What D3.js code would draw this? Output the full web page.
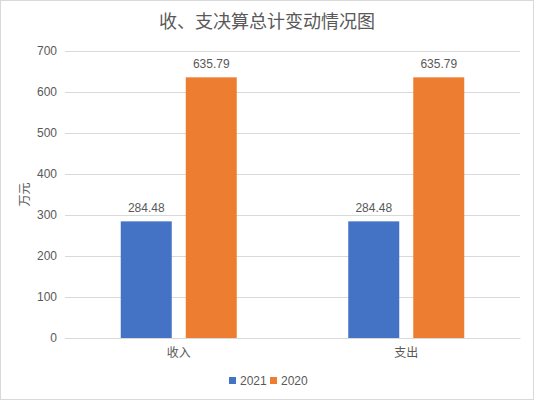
<!DOCTYPE html>
<html><head><meta charset="utf-8">
<script src="https://cdn.jsdelivr.net/npm/d3@7"></script>
<style>body{margin:0;background:#fff;} text{font-family:"Liberation Sans","Noto Sans CJK SC",sans-serif;}</style>
</head><body>
<svg id="c" width="535" height="401"></svg>
<script>
const categories = ["收入", "支出"];
const seriesNames = ["2021", "2020"];
const values2021 = [284.48, 284.48];
const values2020 = [635.79, 635.79];
const yTicks = [0, 100, 200, 300, 400, 500, 600, 700];
const colors = ["#4472C4", "#ED7D31"];

const svg = d3.select("#c");
svg.append("rect").attr("x",0.5).attr("y",0.5).attr("width",533).attr("height",399)
  .attr("fill","#fff").attr("stroke","#d9d9d9");

const plotL = 65, plotR = 520, plotT = 51, plotB = 338;
const x = d3.scaleBand().domain(categories).range([plotL, plotR]);
const y = d3.scaleLinear().domain([0, 700]).range([plotB, plotT]);
const xs = d3.scaleBand().domain(seriesNames).range([0, 116]).paddingInner(14/65);

svg.append("text").attr("x", 267).attr("y", 28).attr("text-anchor","middle")
  .attr("font-size", 18).attr("fill","#595959").text("收、支决算总计变动情况图");

const yAxis = svg.append("g").attr("transform",`translate(${plotL},0)`)
  .call(d3.axisLeft(y).tickValues(yTicks).tickSize(-(plotR-plotL)).tickPadding(8));
yAxis.select(".domain").remove();
yAxis.selectAll("line").attr("stroke","#d9d9d9");
yAxis.selectAll("text").attr("fill","#595959").attr("font-size",12);

const xAxis = svg.append("g").attr("transform",`translate(0,${plotB})`)
  .call(d3.axisBottom(x).tickSize(0).tickPadding(10));
xAxis.select(".domain").attr("stroke","#d9d9d9");
xAxis.selectAll("text").attr("fill","#595959").attr("font-size",12);

svg.append("text").attr("transform",`translate(29,${(plotT+plotB)/2}) rotate(-90)`)
  .attr("text-anchor","middle").attr("font-size",12).attr("fill","#595959").text("万元");

const series = [values2021, values2020];
series.forEach((vals, si) => {
  categories.forEach((c, i) => {
    const bx = x(c) + x.bandwidth()/2 - 58 + xs(seriesNames[si]);
    svg.append("rect").attr("x", bx).attr("y", y(vals[i]))
      .attr("width", xs.bandwidth()).attr("height", plotB - y(vals[i]))
      .attr("fill", colors[si]);
    svg.append("text").attr("x", bx + xs.bandwidth()/2).attr("y", y(vals[i]) - 9)
      .attr("text-anchor","middle").attr("font-size",12).attr("fill","#595959")
      .text(vals[i].toFixed(2));
  });
});

const lg = svg.append("g");
const items = [{n:"2021",c:colors[0],x:229},{n:"2020",c:colors[1],x:270}];
items.forEach(it => {
  lg.append("rect").attr("x",it.x).attr("y",377).attr("width",7).attr("height",7).attr("fill",it.c);
  lg.append("text").attr("x",it.x+11).attr("y",385).attr("font-size",12).attr("fill","#595959").text(it.n);
});
</script>
</body></html>
